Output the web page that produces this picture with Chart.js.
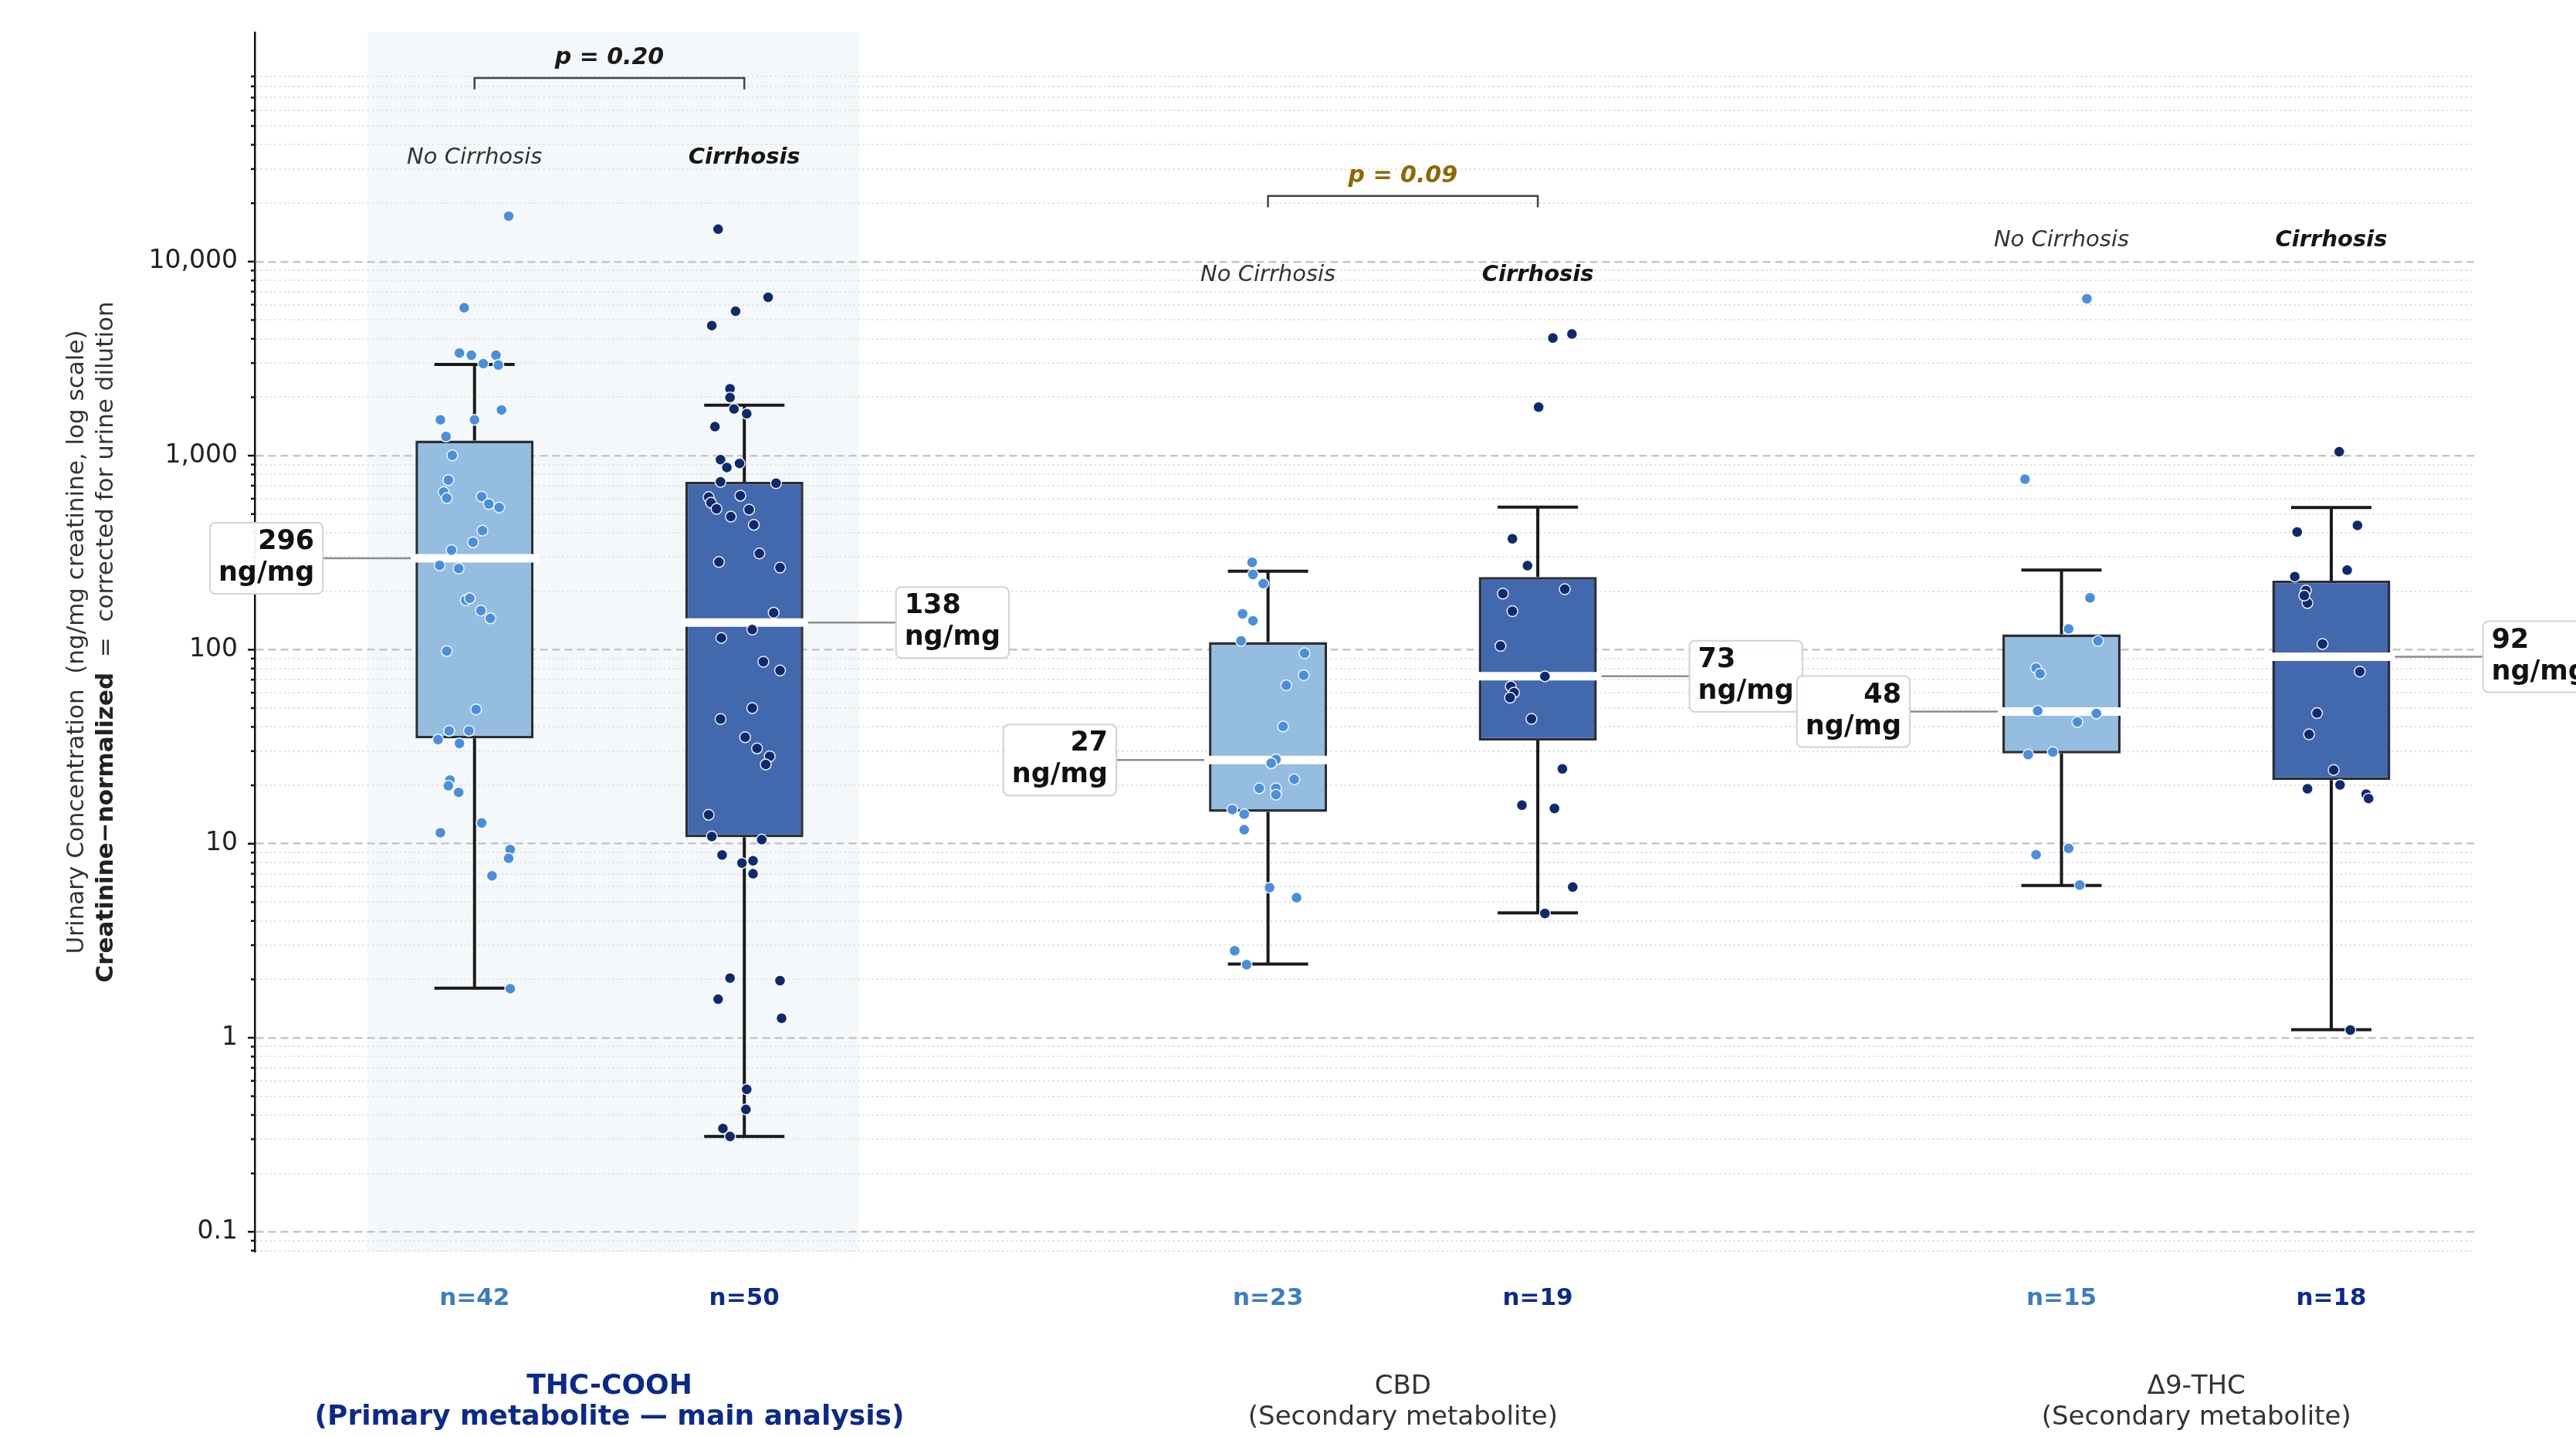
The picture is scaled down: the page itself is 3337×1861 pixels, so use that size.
<!DOCTYPE html>
<html>
<head>
<meta charset="utf-8">
<script src="https://cdn.jsdelivr.net/npm/chart.js@4.4.0/dist/chart.umd.min.js"></script>
<style>
  html, body { margin: 0; padding: 0; background: #fff; }
</style>
</head>
<body>
<canvas id="boxChart" width="3337" height="1861"></canvas>
<script>
// ---- data ----
const metabolites = ['THC-COOH', 'CBD', 'Δ9-THC'];
const subtitles = ['(Primary metabolite — main analysis)', '(Secondary metabolite)', '(Secondary metabolite)'];

const ncMedian = [296, 27, 48];
const ncQ1 = [34.9, 14.6, 29.2];
const ncQ3 = [1197, 109.6, 120];
const ncLow = [1.8, 2.4, 6.1];
const ncHigh = [2950, 254, 257];
const ncCount = [42, 23, 15];

const cMedian = [138, 73, 92];
const cQ1 = [10.8, 34, 21.3];
const cQ3 = [733, 237, 227];
const cLow = [0.31, 4.4, 1.1];
const cHigh = [1820, 543, 541];
const cCount = [50, 19, 18];

const pValues = ['0.20', '0.09', null];

// [value, jitter]
const thcNoCirrhosis = [[17150, 0.043], [5780, -0.013], [3380, -0.019], [3290, -0.004], [3290, 0.027], [2980, 0.011], [2930, 0.030], [1720, 0.034], [1530, -0.043], [1530, 0.0],
  [1256, -0.036], [1003, -0.028], [748, -0.033], [649, -0.039], [604, -0.035], [615, 0.009], [563, 0.018], [541, 0.031], [411, 0.010], [358, -0.002],
  [326, -0.029], [272, -0.044], [262, -0.020], [180, -0.011], [184, -0.006], [159, 0.008], [145, 0.020], [98.4, -0.035], [49.2, 0.002], [38.2, -0.032],
  [38.2, -0.007], [34.4, -0.046], [32.9, -0.019], [21.3, -0.031], [19.9, -0.033], [18.4, -0.020], [12.8, 0.009], [11.4, -0.043], [9.33, 0.045], [8.41, 0.043],
  [6.84, 0.022], [1.79, 0.045]];
const thcCirrhosis = [[14690, -0.033], [6550, 0.030], [5550, -0.011], [4680, -0.041], [2213, -0.018], [1993, -0.018], [1740, -0.013], [1645, 0.003], [1410, -0.037], [954, -0.030],
  [869, -0.022], [912, -0.006], [733, -0.030], [721, 0.040], [622, -0.005], [611, -0.045], [572, -0.042], [532, -0.035], [527, 0.006], [485, -0.017],
  [440, 0.012], [283, -0.032], [313, 0.019], [265, 0.045], [155, 0.037], [127, 0.010], [115, -0.029], [86.7, 0.024], [78.1, 0.045], [50, 0.010],
  [43.9, -0.030], [35.4, 0.001], [31, 0.016], [28.2, 0.032], [25.6, 0.027], [14.1, -0.045], [10.9, -0.041], [10.5, 0.022], [8.75, -0.028], [7.95, -0.003],
  [8.17, 0.011], [7.0, 0.011], [2.03, -0.018], [1.97, 0.045], [1.58, -0.033], [1.26, 0.047], [0.542, 0.003], [0.427, 0.002], [0.341, -0.027], [0.31, -0.018]];
const cbdNoCirrhosis = [[282, -0.020], [244, -0.019], [219, -0.006], [153, -0.032], [141, -0.019], [111, -0.034], [95.8, 0.046], [73.8, 0.045], [65.5, 0.023], [40.2, 0.019],
  [27.2, 0.010], [21.5, 0.033], [19.3, -0.011], [19.3, 0.010], [17.9, 0.010], [15, -0.045], [14.2, -0.030], [11.8, -0.030], [5.94, 0.002], [5.27, 0.036],
  [2.81, -0.042], [2.38, -0.027], [26, 0.004]];
const cbdCirrhosis = [[4040, 0.019], [4235, 0.043], [1779, 0.001], [373, -0.032], [271, -0.013], [205, 0.034], [194.5, -0.044], [158, -0.032], [104.5, -0.047], [72.9, 0.009],
  [64.7, -0.034], [60.1, -0.030], [56.6, -0.035], [44, -0.008], [24.3, 0.031], [15.8, -0.020], [15.2, 0.021], [5.98, 0.044], [4.37, 0.009]];
const d9NoCirrhosis = [[6430, 0.032], [756, -0.046], [185, 0.036], [128, 0.009], [111, 0.046], [80.4, -0.032], [75.2, -0.027], [48.4, -0.030], [46.9, 0.044], [42.4, 0.020],
  [28.8, -0.042], [29.7, -0.011], [8.78, -0.032], [9.45, 0.009], [6.12, 0.023]];
const d9Cirrhosis = [[1047, 0.010], [437, 0.033], [404, -0.043], [257, 0.020], [238, -0.046], [202, -0.032], [174, -0.030], [107, -0.011], [77.2, 0.036], [47.1, -0.018],
  [36.6, -0.028], [24, 0.003], [20.1, 0.011], [19.2, -0.030], [18, 0.044], [17.1, 0.047], [1.096, 0.024], [190, -0.034]];

const ncPoints = [thcNoCirrhosis, cbdNoCirrhosis, d9NoCirrhosis];
const cPoints = [thcCirrhosis, cbdCirrhosis, d9Cirrhosis];

// ---- layout / style ----
const OFF = 0.17;               // half distance between the two boxes of a metabolite
const BOX_PX = 153;
const FONT = '"DejaVu Sans", sans-serif';
const NC_FILL = '#94bde0', C_FILL = '#4268ae';
const NC_DOT = '#4a8fdc', C_DOT = '#0f2a6c';
const NC_TXT = '#3a7dc2', C_TXT = '#0c2a8c';

const ncX = metabolites.map((m, i) => i - OFF);
const cX = metabolites.map((m, i) => i + OFF);

const isDecade = v => Math.abs(Math.log10(v) - Math.round(Math.log10(v))) < 1e-6;

const yTicks = [];
for (let e = -2; e <= 4; e++) {
  for (let k = 1; k <= 9; k++) {
    const v = k * Math.pow(10, e);
    if (v >= 0.079 && v <= 90001) yTicks.push(v);
  }
}

function txt(ctx, s, x, y, font, color, align, base) {
  ctx.font = font;
  ctx.fillStyle = color;
  ctx.textAlign = align || 'center';
  ctx.textBaseline = base || 'middle';
  ctx.fillText(s, x, y);
}

function medianTag(ctx, value, edgeX, y, side) {
  const gap = 120;
  ctx.font = 'bold 35px ' + FONT;
  const l1 = String(value), l2 = 'ng/mg';
  const w = Math.max(ctx.measureText(l1).width, ctx.measureText(l2).width) + 22;
  const h = 92;
  const bx = side < 0 ? edgeX - gap - w : edgeX + gap;
  ctx.strokeStyle = '#8c8c8c';
  ctx.lineWidth = 2.5;
  ctx.beginPath();
  if (side < 0) { ctx.moveTo(bx + w, y); ctx.lineTo(edgeX - 6, y); }
  else { ctx.moveTo(edgeX + 6, y); ctx.lineTo(bx, y); }
  ctx.stroke();
  ctx.beginPath();
  ctx.roundRect(bx, y - h / 2, w, h, 7);
  ctx.fillStyle = 'rgba(255,255,255,0.95)';
  ctx.fill();
  ctx.strokeStyle = '#d2d2d2';
  ctx.lineWidth = 2;
  ctx.stroke();
  const tx = side < 0 ? bx + w - 11 : bx + 11;
  const al = side < 0 ? 'right' : 'left';
  txt(ctx, l1, tx, y - 21, 'bold 35px ' + FONT, '#111', al);
  txt(ctx, l2, tx, y + 20, 'bold 35px ' + FONT, '#111', al);
}

const boxExtras = {
  id: 'boxExtras',
  beforeDraw(chart) {
    const { ctx, chartArea: a, scales: { x } } = chart;
    ctx.save();
    ctx.fillStyle = '#f5f8fa';
    const x0 = x.getPixelForValue(-0.305), x1 = x.getPixelForValue(0.315);
    ctx.fillRect(x0, a.top, x1 - x0, a.bottom - a.top);
    ctx.restore();
  },
  beforeDatasetDraw(chart, args) {
    const ds = chart.data.datasets[args.index];
    if (!ds.boxStats) return;
    const { ctx, scales: { x, y } } = chart;
    const s = ds.boxStats;
    ctx.save();
    ctx.strokeStyle = '#1a1a1a';
    ctx.lineWidth = 4;
    s.pos.forEach((p, i) => {
      const px = x.getPixelForValue(p);
      const yHi = y.getPixelForValue(s.high[i]), yLo = y.getPixelForValue(s.low[i]);
      ctx.beginPath();
      ctx.moveTo(px, y.getPixelForValue(s.q3[i])); ctx.lineTo(px, yHi);
      ctx.moveTo(px, y.getPixelForValue(s.q1[i])); ctx.lineTo(px, yLo);
      ctx.moveTo(px - 52, yHi); ctx.lineTo(px + 52, yHi);
      ctx.moveTo(px - 52, yLo); ctx.lineTo(px + 52, yLo);
      ctx.stroke();
    });
    ctx.restore();
  },
  afterDatasetDraw(chart, args) {
    const ds = chart.data.datasets[args.index];
    if (!ds.boxStats) return;
    const { ctx, scales: { x, y } } = chart;
    const s = ds.boxStats;
    ctx.save();
    ctx.strokeStyle = '#ffffff';
    ctx.lineWidth = 11;
    s.pos.forEach((p, i) => {
      const px = x.getPixelForValue(p), py = y.getPixelForValue(s.median[i]);
      ctx.beginPath();
      ctx.moveTo(px - BOX_PX / 2 - 7, py); ctx.lineTo(px + BOX_PX / 2 + 7, py);
      ctx.stroke();
    });
    ctx.restore();
  },
  afterDraw(chart) {
    const { ctx, chartArea: a, scales: { x, y } } = chart;
    ctx.save();
    // tick marks on the left spine
    ctx.strokeStyle = '#111';
    ctx.lineWidth = 2.5;
    y.ticks.forEach(t => {
      const py = y.getPixelForValue(t.value);
      ctx.beginPath();
      ctx.moveTo(a.left - (isDecade(t.value) ? 9 : 5), py);
      ctx.lineTo(a.left, py);
      ctx.stroke();
    });
    // y-axis title, two lines
    const cy = (a.top + a.bottom) / 2;
    ctx.save();
    ctx.translate(100, cy);
    ctx.rotate(-Math.PI / 2);
    txt(ctx, 'Urinary Concentration  (ng/mg creatinine, log scale)', 0, 0, '31px ' + FONT, '#333');
    ctx.restore();
    ctx.save();
    ctx.translate(138, cy);
    ctx.rotate(-Math.PI / 2);
    const bPart = 'Creatinine\u2212normalized', nPart = '  =  corrected for urine dilution';
    ctx.font = 'bold 31px ' + FONT;
    const wb = ctx.measureText(bPart).width;
    ctx.font = '31px ' + FONT;
    const wn = ctx.measureText(nPart).width;
    txt(ctx, bPart, -(wb + wn) / 2, 0, 'bold 31px ' + FONT, '#222', 'left');
    txt(ctx, nPart, -(wb + wn) / 2 + wb, 0, '31px ' + FONT, '#333', 'left');
    ctx.restore();

    metabolites.forEach((m, i) => {
      const xn = x.getPixelForValue(ncX[i]), xc = x.getPixelForValue(cX[i]);
      const top = Math.max(...ncPoints[i].map(d => d[0]), ...cPoints[i].map(d => d[0]));
      // group captions above boxes
      const ly = y.getPixelForValue(top * 2);
      txt(ctx, 'No Cirrhosis', xn, ly, 'italic 29px ' + FONT, '#333');
      txt(ctx, 'Cirrhosis', xc, ly, 'italic bold 29px ' + FONT, '#151515');
      // p-value bracket
      if (pValues[i]) {
        const by = y.getPixelForValue(top * 5.15), leg = y.getPixelForValue(top * 4.5);
        ctx.strokeStyle = '#444';
        ctx.lineWidth = 2.5;
        ctx.beginPath();
        ctx.moveTo(xn, leg); ctx.lineTo(xn, by); ctx.lineTo(xc, by); ctx.lineTo(xc, leg);
        ctx.stroke();
        txt(ctx, 'p = ' + pValues[i], (xn + xc) / 2, y.getPixelForValue(top * 6.5),
          'italic bold 30px ' + FONT, i === 0 ? '#1a1a1a' : '#8c6a00');
      }
      // sample sizes
      txt(ctx, 'n=' + ncCount[i], xn, 1682, 'bold 31px ' + FONT, NC_TXT);
      txt(ctx, 'n=' + cCount[i], xc, 1682, 'bold 31px ' + FONT, C_TXT);
      // metabolite names
      const gx = x.getPixelForValue(i);
      const f = i === 0 ? 'bold 36px ' + FONT : '34px ' + FONT;
      const col = i === 0 ? '#0c2a8c' : '#333';
      txt(ctx, m, gx, 1796, f, col);
      txt(ctx, subtitles[i], gx, 1836, f, col);
    });
    // median value tags
    metabolites.forEach((m, i) => {
      const xc = x.getPixelForValue(cX[i]);
      medianTag(ctx, cMedian[i], xc + BOX_PX / 2, y.getPixelForValue(cMedian[i]), 1);
      const xn = x.getPixelForValue(ncX[i]);
      medianTag(ctx, ncMedian[i], xn - BOX_PX / 2, y.getPixelForValue(ncMedian[i]), -1);
    });
    ctx.restore();
  }
};

const toScatter = (groups, xs) => groups.flatMap((pts, i) => pts.map(([v, dx]) => ({ x: xs[i] + dx, y: v })));

new Chart(document.getElementById('boxChart'), {
  type: 'bar',
  data: {
    datasets: [
      {
        label: 'No Cirrhosis',
        data: ncX.map((p, i) => ({ x: p, y: [ncQ1[i], ncQ3[i]] })),
        backgroundColor: NC_FILL,
        borderColor: '#2b2f36',
        borderWidth: 3.5,
        borderSkipped: false,
        maxBarThickness: BOX_PX,
        grouped: false,
        order: 3,
        boxStats: { pos: ncX, q1: ncQ1, q3: ncQ3, low: ncLow, high: ncHigh, median: ncMedian }
      },
      {
        label: 'Cirrhosis',
        data: cX.map((p, i) => ({ x: p, y: [cQ1[i], cQ3[i]] })),
        backgroundColor: C_FILL,
        borderColor: '#2b2f36',
        borderWidth: 3.5,
        borderSkipped: false,
        maxBarThickness: BOX_PX,
        grouped: false,
        order: 3,
        boxStats: { pos: cX, q1: cQ1, q3: cQ3, low: cLow, high: cHigh, median: cMedian }
      },
      {
        type: 'scatter',
        label: 'No Cirrhosis points',
        data: toScatter(ncPoints, ncX),
        backgroundColor: NC_DOT,
        borderColor: 'rgba(255,255,255,0.9)',
        borderWidth: 1.5,
        pointRadius: 7,
        order: 1
      },
      {
        type: 'scatter',
        label: 'Cirrhosis points',
        data: toScatter(cPoints, cX),
        backgroundColor: C_DOT,
        borderColor: 'rgba(255,255,255,0.9)',
        borderWidth: 1.5,
        pointRadius: 7,
        order: 1
      }
    ]
  },
  options: {
    responsive: false,
    devicePixelRatio: 1,
    animation: false,
    layout: { padding: { top: 33, right: 132, bottom: 240, left: 0 } },
    plugins: { legend: { display: false }, tooltip: { enabled: false } },
    scales: {
      x: { type: 'linear', min: -0.447, max: 2.35, offset: false, display: false },
      y: {
        type: 'logarithmic',
        min: 0.079,
        max: 152000,
        afterFit: s => { s.width = 330; },
        afterBuildTicks: s => { s.ticks = yTicks.map(v => ({ value: v })); },
        ticks: {
          autoSkip: false,
          padding: 22,
          color: '#222',
          font: { family: FONT, size: 33 },
          callback: v => isDecade(v) ? (v >= 1 ? Math.round(v).toLocaleString('en-US') : String(v)) : ''
        },
        grid: {
          drawTicks: false,
          color: c => (c.tick && isDecade(c.tick.value)) ? '#c6c6c6' : '#e2e2e2',
          lineWidth: c => (c.tick && isDecade(c.tick.value)) ? 2.5 : 2
        },
        border: {
          display: true,
          color: '#111',
          width: 2.5,
          dash: c => (c.tick && isDecade(c.tick.value)) ? [10, 6] : [2.5, 3.5]
        }
      }
    }
  },
  plugins: [boxExtras]
});
</script>
</body>
</html>
